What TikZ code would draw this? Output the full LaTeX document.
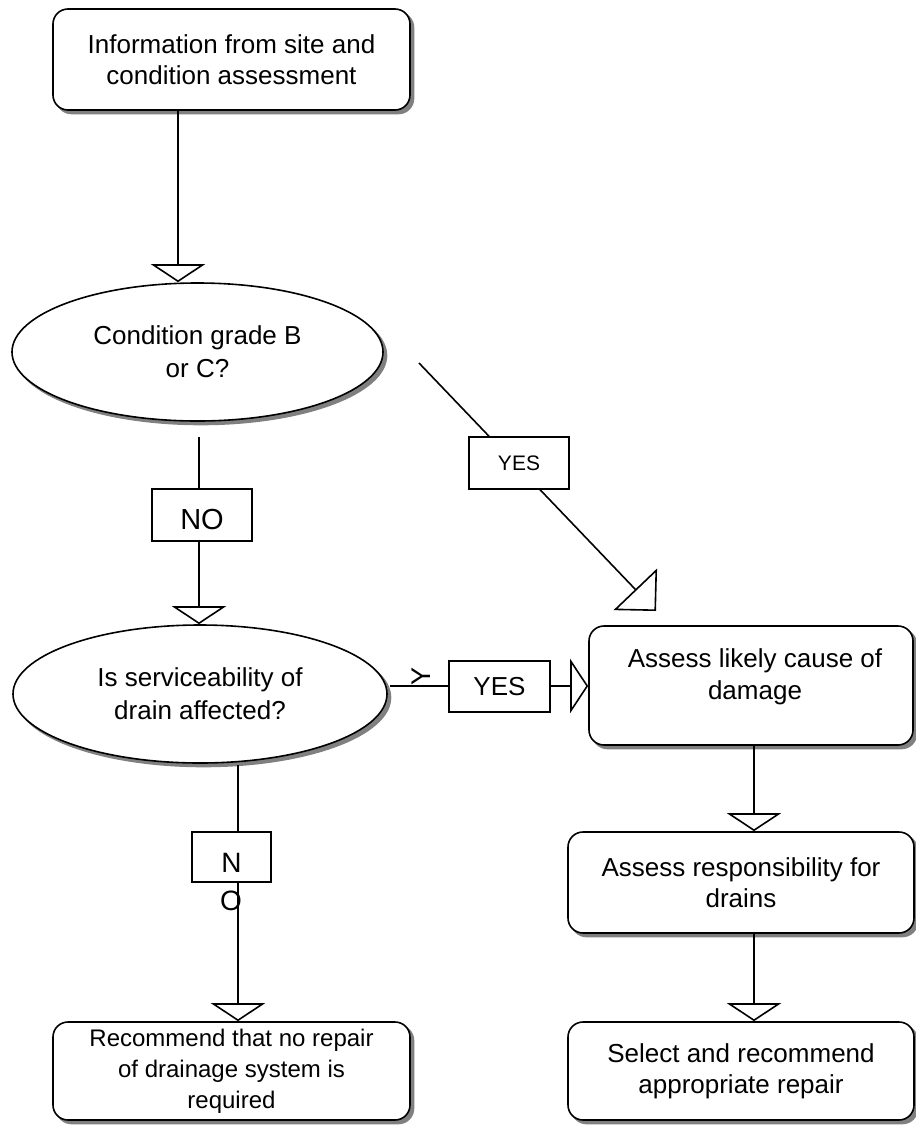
\documentclass[tikz,border=0pt]{standalone}
\usepackage{fontspec}
\setmainfont{Liberation Sans}
\usetikzlibrary{arrows.meta,shapes.geometric,shadows,calc}
\begin{document}
\begin{tikzpicture}[x=1pt,y=-1pt,
  line width=1.6pt,
  shadowed/.style={general shadow={fill=black!50, draw=black!50, shadow xshift=3.5pt, shadow yshift=-3.5pt}},
  rbox/.style={draw, fill=white, rounded corners=15pt, shadowed, align=center, inner sep=0pt, font=\fontsize{26}{31}\selectfont},
  oval/.style={draw, fill=white, ellipse, shadowed, align=center, inner sep=0pt, font=\fontsize{26}{33}\selectfont},
  lbl/.style={draw, fill=white, inner sep=0pt, line width=1.3pt},
  flow/.style={-{Triangle[open,width=54pt,length=18pt]}},
  flowbig/.style={-{Triangle[open,width=60pt,length=30pt]}}
]
\useasboundingbox (0,0) rectangle (916,1125);

% main nodes
\node[rbox, minimum width=357pt, minimum height=101pt] (top) at (231.5,59.5) {Information from site and\\condition assessment};
\node[oval, minimum width=371pt, minimum height=138pt] (e1) at (197.5,352) {Condition grade B\\or C?};
\node[oval, minimum width=374pt, minimum height=138pt] (e2) at (200,694) {Is serviceability of\\drain affected?};
\node[rbox, minimum width=324pt, minimum height=119pt] (cause) at (751,685.5) {};
\node[font=\fontsize{26}{32}\selectfont, align=center, inner sep=0pt] (causetext) at (755,677) {Assess likely cause of\\damage};
\node[rbox, minimum width=346pt, minimum height=101pt] (resp) at (741,882.5) {Assess responsibility for\\drains};
\node[rbox, minimum width=346pt, minimum height=98pt] (sel) at (741,1071) {Select and recommend\\appropriate repair};
\node[rbox, minimum width=357pt, minimum height=98pt, font=\fontsize{24}{31}\selectfont] (rec) at (231.5,1071) {Recommend that no repair\\of drainage system is\\required};

% connector anchors
\coordinate (xA) at (178,0);
\coordinate (s2) at (199,437);
\coordinate (s3) at (390,686);
\coordinate (s4) at (419,363);
\coordinate (t4) at (656,611);
\coordinate (s5) at (238,765);
\coordinate (xD) at (754,0);

% connectors
\draw[flow] (top.south -| xA) -- (e1.north -| xA);
\draw[flow] (s2) -- (e2.north -| s2);
\draw[flow] (s3) -- (cause.west |- s3);
\draw[flowbig] (s4) -- (t4);
\draw[flow] (s5) -- (rec.north -| s5);
\draw[flow] (cause.south -| xD) -- (resp.north -| xD);
\draw[flow] (resp.south -| xD) -- (sel.north -| xD);

% labels on connectors
\node[lbl, minimum width=100pt, minimum height=52pt, font=\fontsize{21}{25}\selectfont] (yes1) at (519,463) {YES};
\node[lbl, minimum width=100pt, minimum height=52pt, font=\fontsize{29}{34}\selectfont, text height=28pt, text depth=0pt] (no1) at (202,515) {NO};
\node[lbl, minimum width=101pt, minimum height=51pt, font=\fontsize{26}{31}\selectfont] (yes2) at (499.5,686.5) {YES};
\node[lbl, minimum width=79pt, minimum height=50pt, font=\fontsize{28}{33}\selectfont, text height=30pt, text depth=0pt] (n1) at (231.5,857) {N};
\node[font=\fontsize{28}{33}\selectfont, inner sep=0pt] (o1) at (231,901) {O};
\node[rotate=90, font=\fontsize{27}{32}\selectfont, inner sep=0pt] (yrot) at (421,676) {Y};
\end{tikzpicture}
\end{document}
